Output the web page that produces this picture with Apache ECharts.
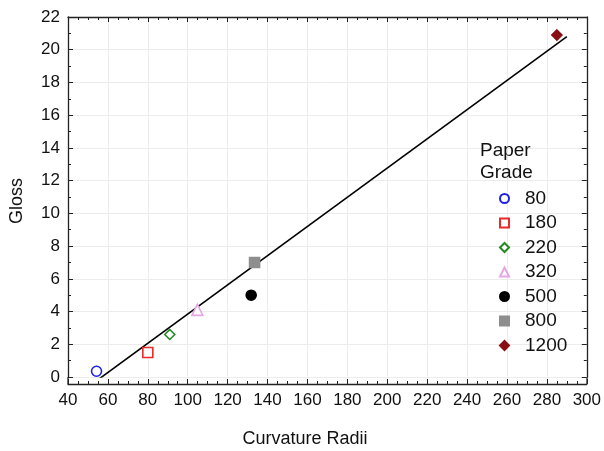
<!DOCTYPE html>
<html>
<head>
<meta charset="utf-8">
<script src="https://cdn.jsdelivr.net/npm/echarts@6/dist/echarts.min.js"></script>
<style>
html,body{margin:0;padding:0;background:#fff;}
#c{width:604px;height:451px;}
</style>
</head>
<body>
<div id="c"></div>
<script>
// Data
var grades = ['80', '180', '220', '320', '500', '800', '1200'];
var radii = [54.3, 80, 91, 104.8, 131.8, 133.5, 285];
var gloss = [0.35, 1.5, 2.6, 4.1, 5.0, 7.0, 20.9];
var fitX = [55, 290];
var fitY = [-0.17, 20.8];
var xTicks = [40, 60, 80, 100, 120, 140, 160, 180, 200, 220, 240, 260, 280, 300];
var yTicks = [0, 2, 4, 6, 8, 10, 12, 14, 16, 18, 20, 22];

var symbols = ['circle', 'rect', 'diamond', 'triangle', 'circle', 'rect', 'diamond'];
var fills = ['#ffffff', '#ffffff', '#ffffff', '#ffffff', '#000000', '#8e8e8e', '#8a0f12'];
var strokes = ['#2020e6', '#e82a2a', '#238a23', '#e6a6e6', '#000000', '#8e8e8e', '#8a0f12'];
var sizes = [10, 10, 10, 11, 10, 10, 10];

var FONT = 'Liberation Sans, Arial, Helvetica, sans-serif';
var chart = echarts.init(document.getElementById('c'), null, {renderer: 'canvas'});

var series = grades.map(function (g, i) {
  return {
    name: g,
    type: 'scatter',
    symbol: symbols[i],
    symbolSize: sizes[i],
    symbolKeepAspect: true,
    itemStyle: {color: fills[i], borderColor: strokes[i], borderWidth: 1.6, opacity: 1},
    data: [[radii[i], gloss[i]]],
    z: 3
  };
});
series.unshift({
  name: 'fit',
  type: 'line',
  data: fitX.map(function (x, i) { return [x, fitY[i]]; }),
  symbol: 'none',
  lineStyle: {color: '#000', width: 1.6},
  silent: true,
  z: 2
});

var AX = '#222';
function axisCommon(showLabel) {
  return {
    axisLine: {show: true, onZero: false, lineStyle: {color: AX, width: 1.3}},
    axisTick: {show: true, inside: true, length: 5, lineStyle: {color: AX}},
    minorTick: {show: true, length: 3, lineStyle: {color: AX}},
    axisLabel: {show: showLabel, color: '#111', fontSize: 17, fontFamily: FONT, margin: 8}
  };
}

var xb = Object.assign(axisCommon(true), {
  type: 'value', position: 'bottom', offset: 7, min: xTicks[0], max: xTicks[xTicks.length - 1], interval: 20,
  splitLine: {show: true, lineStyle: {color: '#ececec', width: 1}}
});
xb.minorTick.splitNumber = 4;
var xt = Object.assign(axisCommon(false), {
  type: 'value', position: 'top', min: xTicks[0], max: xTicks[xTicks.length - 1], interval: 20, splitLine: {show: false}
});
xt.minorTick.splitNumber = 4;

var yl = Object.assign(axisCommon(true), {
  type: 'value', position: 'left', min: yTicks[0], max: yTicks[yTicks.length - 1], interval: 2,
  splitLine: {show: true, lineStyle: {color: '#ececec', width: 1}}
});
yl.minorTick.splitNumber = 2;
var yr = Object.assign(axisCommon(false), {
  type: 'value', position: 'right', min: yTicks[0], max: yTicks[yTicks.length - 1], interval: 2, splitLine: {show: false}
});
yr.minorTick.splitNumber = 2;

var GL = 68, GR = 587, GT = 17, GB = 377, FB = 384;

chart.setOption({
  backgroundColor: '#ffffff',
  animation: false,
  grid: {left: GL, right: 604 - GR, top: GT, bottom: 451 - GB, containLabel: false},
  xAxis: [xb, xt],
  yAxis: [yl, yr],
  legend: {
    data: grades,
    orient: 'vertical',
    left: 494, top: 184,
    itemWidth: 9, itemHeight: 9, itemGap: 5.5,
    textStyle: {fontSize: 19, fontFamily: FONT, color: '#111', lineHeight: 19, padding: [0, 0, 0, 11]},
    selectedMode: false
  },
  graphic: [
    {type: 'line', silent: true, shape: {x1: GL, y1: GB, x2: GL, y2: FB}, style: {stroke: AX, lineWidth: 1.3}},
    {type: 'line', silent: true, shape: {x1: GR, y1: GB, x2: GR, y2: FB}, style: {stroke: AX, lineWidth: 1.3}},
    {type: 'text', z: 100, left: 480, top: 140, style: {text: 'Paper\nGrade', fontSize: 19, lineHeight: 22, fontFamily: FONT, fill: '#111'}},
    {type: 'text', x: 305, y: 439, style: {text: 'Curvature Radii', fontSize: 18, fontFamily: FONT, fill: '#111', align: 'center', verticalAlign: 'middle'}},
    {type: 'text', x: 17, y: 201, rotation: Math.PI / 2, style: {text: 'Gloss', fontSize: 18, fontFamily: FONT, fill: '#111', align: 'center', verticalAlign: 'middle'}}
  ],
  series: series
});
</script>
</body>
</html>
